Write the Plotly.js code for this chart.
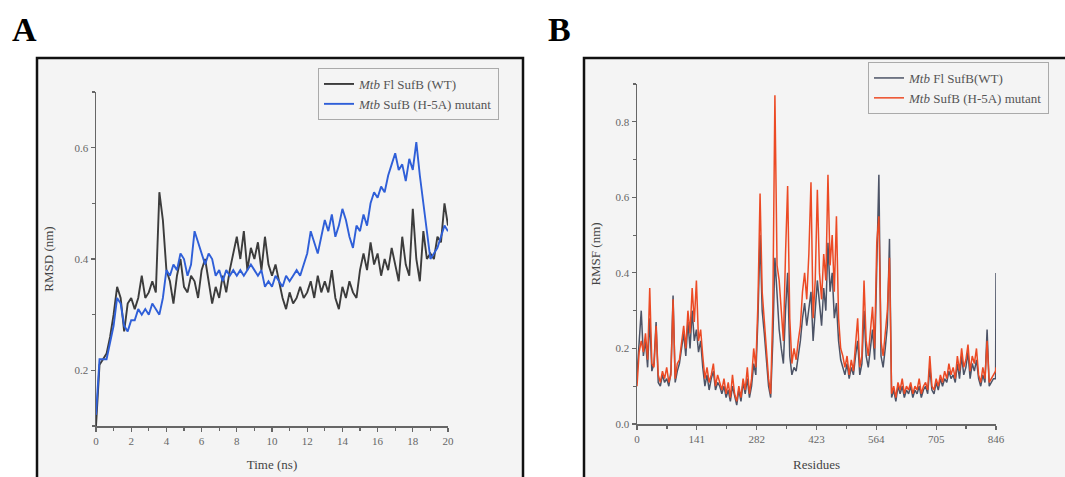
<!DOCTYPE html>
<html><head><meta charset="utf-8">
<script src="https://cdn.plot.ly/plotly-3.0.1.min.js"></script>
<style>html,body{margin:0;padding:0;background:#fff;}#chart{width:1065px;height:477px;}</style>
</head><body><div id="chart"></div>
<script>
// Panel A: RMSD vs time (ns), sampled every 0.2 ns
const timeStep = 0.2;
const rmsdWT = [0.10,0.21,0.22,0.23,0.26,0.30,0.35,0.33,0.27,0.32,
 0.33,0.31,0.33,0.37,0.33,0.34,0.36,0.34,0.52,0.47,
 0.38,0.36,0.32,0.37,0.40,0.35,0.34,0.37,0.36,0.33,
 0.38,0.40,0.36,0.32,0.35,0.33,0.37,0.34,0.38,0.41,
 0.44,0.40,0.45,0.38,0.42,0.40,0.43,0.38,0.44,0.39,
 0.37,0.39,0.36,0.33,0.31,0.34,0.32,0.33,0.35,0.33,
 0.34,0.36,0.33,0.37,0.34,0.36,0.34,0.38,0.33,0.31,
 0.35,0.33,0.36,0.34,0.33,0.38,0.41,0.38,0.43,0.39,
 0.41,0.37,0.40,0.38,0.42,0.39,0.36,0.44,0.39,0.37,
 0.49,0.40,0.36,0.45,0.40,0.41,0.40,0.44,0.43,0.50,
 0.46];
const rmsdMut = [0.12,0.22,0.22,0.22,0.25,0.28,0.33,0.32,0.28,0.27,
 0.29,0.29,0.31,0.30,0.31,0.30,0.32,0.31,0.30,0.33,
 0.38,0.37,0.39,0.38,0.41,0.40,0.37,0.39,0.45,0.43,
 0.41,0.39,0.41,0.40,0.37,0.38,0.36,0.38,0.37,0.38,
 0.37,0.38,0.37,0.38,0.39,0.38,0.37,0.38,0.35,0.36,
 0.35,0.37,0.36,0.35,0.37,0.36,0.37,0.38,0.37,0.39,
 0.41,0.45,0.43,0.41,0.44,0.47,0.45,0.48,0.44,0.46,
 0.49,0.47,0.44,0.42,0.46,0.45,0.48,0.46,0.50,0.52,
 0.51,0.53,0.52,0.55,0.57,0.59,0.56,0.57,0.54,0.58,
 0.56,0.61,0.55,0.50,0.44,0.40,0.41,0.42,0.44,0.46,
 0.45];
const timeNs = rmsdWT.map((_, i) => +(i * timeStep).toFixed(1));

// Panel B: RMSF per residue, sampled every 5 residues (+ last residue 846)
const rmsfWT = [0.13,0.21,0.30,0.18,0.22,0.15,0.28,0.14,0.16,0.27,
 0.11,0.10,0.13,0.11,0.12,0.10,0.14,0.34,0.11,0.14,
 0.16,0.20,0.24,0.18,0.27,0.20,0.30,0.22,0.25,0.19,
 0.22,0.15,0.10,0.13,0.09,0.12,0.14,0.09,0.11,0.10,
 0.08,0.10,0.07,0.09,0.06,0.10,0.07,0.05,0.09,0.06,
 0.11,0.08,0.12,0.07,0.10,0.16,0.13,0.28,0.50,0.30,
 0.24,0.16,0.10,0.07,0.22,0.44,0.33,0.25,0.20,0.16,
 0.30,0.40,0.18,0.13,0.15,0.14,0.18,0.22,0.28,0.32,
 0.26,0.30,0.35,0.22,0.30,0.38,0.32,0.26,0.36,0.30,
 0.48,0.35,0.40,0.28,0.32,0.22,0.17,0.15,0.13,0.16,
 0.12,0.15,0.13,0.18,0.22,0.13,0.16,0.30,0.18,0.15,
 0.20,0.25,0.17,0.40,0.66,0.18,0.15,0.20,0.26,0.49,
 0.07,0.09,0.06,0.10,0.08,0.10,0.07,0.09,0.08,0.10,
 0.07,0.09,0.08,0.10,0.07,0.09,0.10,0.08,0.15,0.09,
 0.08,0.11,0.09,0.12,0.10,0.12,0.11,0.14,0.12,0.13,
 0.11,0.16,0.12,0.18,0.13,0.15,0.19,0.12,0.16,0.14,
 0.17,0.12,0.10,0.13,0.11,0.25,0.10,0.11,0.12,0.12,
 0.40];
const rmsfMut = [0.10,0.19,0.22,0.19,0.24,0.17,0.36,0.16,0.15,0.26,
 0.13,0.11,0.14,0.12,0.15,0.11,0.13,0.33,0.12,0.16,
 0.17,0.22,0.26,0.20,0.30,0.24,0.36,0.27,0.38,0.22,
 0.25,0.18,0.12,0.15,0.11,0.13,0.16,0.10,0.13,0.11,
 0.09,0.12,0.08,0.11,0.07,0.13,0.08,0.06,0.10,0.07,
 0.12,0.09,0.15,0.08,0.12,0.20,0.15,0.32,0.61,0.35,
 0.28,0.20,0.12,0.08,0.30,0.87,0.42,0.38,0.30,0.22,
 0.45,0.63,0.28,0.16,0.20,0.17,0.22,0.26,0.35,0.40,
 0.33,0.45,0.64,0.28,0.38,0.62,0.40,0.33,0.45,0.38,
 0.66,0.42,0.50,0.35,0.55,0.28,0.20,0.18,0.15,0.18,
 0.13,0.17,0.14,0.21,0.28,0.15,0.18,0.38,0.22,0.18,
 0.25,0.31,0.20,0.48,0.55,0.22,0.18,0.25,0.30,0.44,
 0.08,0.10,0.07,0.11,0.09,0.12,0.08,0.10,0.09,0.11,
 0.08,0.10,0.09,0.12,0.08,0.10,0.11,0.09,0.18,0.10,
 0.09,0.12,0.10,0.13,0.11,0.14,0.12,0.16,0.13,0.15,
 0.12,0.18,0.14,0.20,0.15,0.17,0.21,0.14,0.18,0.16,
 0.20,0.13,0.11,0.15,0.12,0.22,0.11,0.12,0.13,0.14,
 0.15];
const residues = rmsfWT.map((_, i) => Math.min(i * 5, 846));
residues[residues.length - 1] = 846;

const xTicksA = [0,2,4,6,8,10,12,14,16,18,20];
const xTicksB = [0,141,282,423,564,705,846];
const yTicksA = [0.2,0.4,0.6];
const yTicksB = [0.0,0.2,0.4,0.6,0.8];

const namesA = ['<i>Mtb</i> Fl SufB (WT)', '<i>Mtb</i> SufB (H-5A) mutant'];
const namesB = ['<i>Mtb</i> Fl SufB(WT)', '<i>Mtb</i> SufB (H-5A) mutant'];

const W = 1065, H = 477;
const px = v => v / W, py = v => 1 - v / H;
const serif = 'Liberation Serif, Times New Roman, serif';

const traces = [
  {x: timeNs, y: rmsdWT, name: namesA[0], type: 'scatter', mode: 'lines',
   line: {color: '#3c3c3c', width: 1.9}, xaxis: 'x', yaxis: 'y', legend: 'legend'},
  {x: timeNs, y: rmsdMut, name: namesA[1], type: 'scatter', mode: 'lines',
   line: {color: '#2f5fd8', width: 1.9}, xaxis: 'x', yaxis: 'y', legend: 'legend'},
  {x: residues, y: rmsfWT, name: namesB[0], type: 'scatter', mode: 'lines',
   line: {color: '#4c5366', width: 1.5}, xaxis: 'x2', yaxis: 'y2', legend: 'legend2'},
  {x: residues, y: rmsfMut, name: namesB[1], type: 'scatter', mode: 'lines',
   line: {color: '#ec4a24', width: 1.5}, xaxis: 'x2', yaxis: 'y2', legend: 'legend2'}
];

const tickFont = {family: serif, size: 11, color: '#666'};
const titleFont = {family: serif, size: 13, color: '#444'};
const axisCommon = {
  showgrid: false, zeroline: false, showline: true, linecolor: '#666', linewidth: 1.5,
  ticks: 'outside', ticklen: 4, tickcolor: '#666', tickwidth: 1.2, tickfont: tickFont,
  fixedrange: true
};

const layout = {
  width: W, height: H, margin: {l: 0, r: 0, t: 0, b: 0},
  paper_bgcolor: '#ffffff', plot_bgcolor: 'rgba(0,0,0,0)',
  showlegend: true,
  xaxis: Object.assign({}, axisCommon, {
    domain: [px(96), px(448)], range: [0, 20], tickvals: xTicksA,
    minor: {dtick: 1, ticklen: 3, tickcolor: '#666', ticks: 'outside'},
    title: {text: 'Time (ns)', font: titleFont, standoff: 14}, anchor: 'y'
  }),
  yaxis: Object.assign({}, axisCommon, {
    domain: [1 - 426 / H, 1 - 92 / H], range: [0.1, 0.7], tickvals: yTicksA, tickformat: '.1f',
    minor: {dtick: 0.1, tick0: 0.1, ticklen: 3, tickcolor: '#666', ticks: 'outside'},
    title: {text: 'RMSD (nm)', font: titleFont, standoff: 18}, anchor: 'x'
  }),
  xaxis2: Object.assign({}, axisCommon, {
    domain: [px(637), px(996)], range: [0, 846], tickvals: xTicksB,
    minor: {dtick: 70.5, ticklen: 3, tickcolor: '#666', ticks: 'outside'},
    title: {text: 'Residues', font: titleFont, standoff: 16}, anchor: 'y2'
  }),
  yaxis2: Object.assign({}, axisCommon, {
    domain: [1 - 424 / H, 1 - 84 / H], range: [0, 0.9], tickvals: yTicksB, tickformat: '.1f',
    minor: {dtick: 0.1, tick0: 0, ticklen: 3, tickcolor: '#666', ticks: 'outside'},
    title: {text: 'RMSF (nm)', font: titleFont, standoff: 12}, anchor: 'x2'
  }),
  legend: {
    x: px(318), y: py(68), xanchor: 'left', yanchor: 'top',
    bgcolor: '#f4f4f4', bordercolor: '#aaaaaa', borderwidth: 1,
    font: {family: serif, size: 13, color: '#555'}, tracegroupgap: 0, itemwidth: 30
  },
  legend2: {
    x: px(868), y: py(62), xanchor: 'left', yanchor: 'top',
    bgcolor: '#f4f4f4', bordercolor: '#aaaaaa', borderwidth: 1,
    font: {family: serif, size: 13, color: '#555'}, tracegroupgap: 0, itemwidth: 30
  },
  shapes: [
    {type: 'rect', xref: 'paper', yref: 'paper', layer: 'below',
     x0: px(37), x1: px(523), y0: -0.05, y1: py(58),
     fillcolor: '#f4f4f4', line: {color: '#111', width: 2.5}},
    {type: 'rect', xref: 'paper', yref: 'paper', layer: 'below',
     x0: px(584), x1: 1.05, y0: -0.05, y1: py(58),
     fillcolor: '#f4f4f4', line: {color: '#111', width: 2.5}}
  ],
  annotations: [
    {text: '<b>A</b>', xref: 'paper', yref: 'paper', x: px(10), y: py(30),
     xanchor: 'left', yanchor: 'middle', showarrow: false,
     font: {family: serif, size: 34, color: '#000'}},
    {text: '<b>B</b>', xref: 'paper', yref: 'paper', x: px(546), y: py(30),
     xanchor: 'left', yanchor: 'middle', showarrow: false,
     font: {family: serif, size: 34, color: '#000'}}
  ]
};

Plotly.newPlot('chart', traces, layout, {displayModeBar: false, staticPlot: true});
</script>
</body></html>
